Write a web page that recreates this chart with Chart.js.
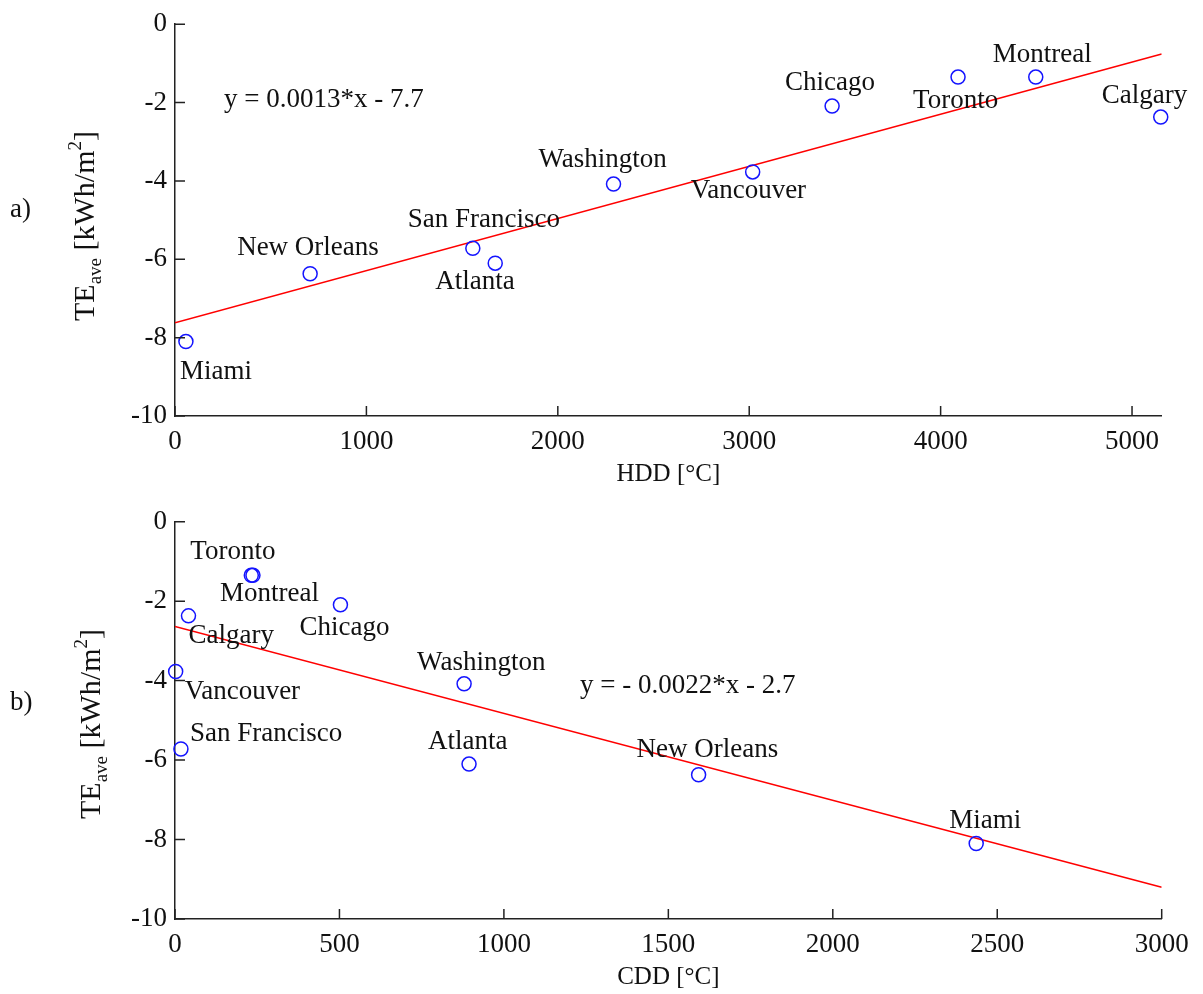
<!DOCTYPE html>
<html>
<head>
<meta charset="utf-8">
<script src="https://cdn.jsdelivr.net/npm/chart.js@4.4.0/dist/chart.umd.min.js"></script>
<style>
html, body { margin: 0; padding: 0; background: #fff; }
.box { position: absolute; left: 0; width: 1203px; height: 497px; }
</style>
</head>
<body>
<div class="box" style="top:0"><canvas id="hdd"></canvas></div>
<div class="box" style="top:497px"><canvas id="cdd"></canvas></div>
<script>
// data
var cities = ['Miami', 'New Orleans', 'San Francisco', 'Atlanta', 'Washington', 'Vancouver', 'Chicago', 'Toronto', 'Montreal', 'Calgary'];
var teAve = [-8.1, -6.37, -5.72, -6.1, -4.08, -3.77, -2.09, -1.35, -1.35, -2.37];
var hdd = [57, 706, 1556, 1673, 2291, 3018, 3433, 4091, 4497, 5150];
var cdd = [2436, 1592, 18, 894, 879, 2, 503, 232, 237, 41];
var hddFitX = [0, 5155], hddFitY = [-7.62, -0.76];
var cddFitX = [0, 3000], cddFitY = [-2.64, -9.2];
var hddTicks = [0, 1000, 2000, 3000, 4000, 5000];
var cddTicks = [0, 500, 1000, 1500, 2000, 2500, 3000];
var teTicks = [-10, -8, -6, -4, -2, 0];

// label placement, px from the marker (left, baseline)
var hddLabelOff = [[-6, 37], [-73, -19], [-65, -21], [-60, 26], [-75, -17], [-62, 26], [-47, -16], [-45, 31], [-43, -15], [-59, -14]];
var cddLabelOff = [[-27, -16], [-62, -18], [9, -8], [-41, -15], [-47, -14], [9, 28], [-41, 30], [-61, -16], [-33, 26], [0, 27]];

var SERIF = "'Liberation Serif', 'Times New Roman', serif";
Chart.defaults.font.family = SERIF;
Chart.defaults.color = '#111';

function toPts(xs, ys) {
    var out = [];
    for (var i = 0; i < xs.length; i++) out.push({x: xs[i], y: ys[i]});
    return out;
}

var extras = {
    id: 'extras',
    afterDatasetsDraw: function(chart, args, o) {
        var ctx = chart.ctx, ca = chart.chartArea;
        var meta = chart.getDatasetMeta(0);
        ctx.save();
        ctx.fillStyle = '#111';
        ctx.textAlign = 'left';
        ctx.textBaseline = 'alphabetic';
        ctx.font = '27px ' + SERIF;
        for (var i = 0; i < meta.data.length; i++) {
            var el = meta.data[i];
            ctx.fillText(cities[i], el.x + o.off[i][0], el.y + o.off[i][1]);
        }
        // fit equation
        ctx.fillText(o.eq, ca.left + o.eqPos[0], ca.top + o.eqPos[1]);
        ctx.restore();
    },
    afterDraw: function(chart, args, o) {
        var ctx = chart.ctx, ca = chart.chartArea;
        var xs = chart.scales.x, ys = chart.scales.y;
        ctx.save();
        ctx.strokeStyle = '#222';
        ctx.lineWidth = 1.5;
        ctx.beginPath();
        xs.ticks.forEach(function(t) {
            var p = xs.getPixelForValue(t.value);
            ctx.moveTo(p, ca.bottom); ctx.lineTo(p, ca.bottom - 10);
        });
        ys.ticks.forEach(function(t) {
            var p = ys.getPixelForValue(t.value);
            ctx.moveTo(ca.left, p); ctx.lineTo(ca.left + 10, p);
        });
        ctx.stroke();

        // panel letter
        ctx.fillStyle = '#111';
        ctx.font = '27px ' + SERIF;
        ctx.textAlign = 'left';
        ctx.fillText(o.panel, 10, o.panelY);

        // rotated y title with sub/superscript
        var big = '30px ' + SERIF, small = '19px ' + SERIF;
        var parts = [['TE', big, 0], ['ave', small, 7], [' [kWh/m', big, 0], ['2', small, -13], [']', big, 0]];
        var total = 0;
        parts.forEach(function(p) { ctx.font = p[1]; total += ctx.measureText(p[0]).width; });
        ctx.translate(o.titleX, o.titleY);
        ctx.rotate(-Math.PI / 2);
        var x = -total / 2;
        parts.forEach(function(p) {
            ctx.font = p[1];
            ctx.fillText(p[0], x, p[2]);
            x += ctx.measureText(p[0]).width;
        });
        ctx.restore();
    }
};

function fixedTicks(list) {
    return function(s) {
        s.ticks = list.map(function(v) { return {value: v}; });
    };
}

function makeChart(id, xs, fitX, fitY, xMax, xTickList, xTitle, opts) {
    return new Chart(document.getElementById(id), {
        type: 'scatter',
        data: {
            datasets: [
                {
                    data: toPts(xs, teAve),
                    pointStyle: 'circle',
                    pointRadius: 7,
                    pointHoverRadius: 7,
                    borderColor: 'rgb(20,20,255)',
                    backgroundColor: 'rgba(0,0,0,0)',
                    borderWidth: 1.5,
                    clip: false
                },
                {
                    data: toPts(fitX, fitY),
                    showLine: true,
                    pointRadius: 0,
                    borderColor: 'rgb(255,0,0)',
                    borderWidth: 1.5
                }
            ]
        },
        options: {
            responsive: true,
            maintainAspectRatio: false,
            animation: false,
            events: [],
            layout: { padding: { left: 0, right: 41.3, top: opts.top, bottom: 0 } },
            plugins: {
                legend: { display: false },
                tooltip: { enabled: false },
                extras: opts
            },
            scales: {
                x: {
                    type: 'linear',
                    min: 0, max: xMax,
                    grid: { display: false, drawTicks: false },
                    border: { display: true, color: '#222', width: 1.5 },
                    afterBuildTicks: fixedTicks(xTickList),
                    ticks: { padding: 10, maxRotation: 0, autoSkip: false, font: { size: 27 }, color: '#111',
                             callback: function(v) { return String(v); } },
                    title: { display: true, text: xTitle, font: { size: 25 }, color: '#111', padding: { top: 0, bottom: opts.xTitlePad } },
                    afterFit: function(s) { s.height = opts.xH; }
                },
                y: {
                    type: 'linear',
                    min: -10, max: 0,
                    grid: { display: false, drawTicks: false },
                    border: { display: true, color: '#222', width: 1.5 },
                    afterBuildTicks: fixedTicks(teTicks),
                    ticks: { padding: 8, autoSkip: false, font: { size: 27 }, color: '#111',
                             callback: function(v) { return String(v); } },
                    afterFit: function(s) { s.width = 175; }
                }
            }
        },
        plugins: [extras]
    });
}

makeChart('hdd', hdd, hddFitX, hddFitY, 5155, hddTicks, 'HDD [\u00B0C]', {
    top: 20, xH: 81, xTitlePad: 8,
    off: hddLabelOff, eq: 'y = 0.0013*x - 7.7', eqPos: [49, 83],
    panel: 'a)', panelY: 217, titleX: 94, titleY: 226
});
makeChart('cdd', cdd, cddFitX, cddFitY, 3000, cddTicks, 'CDD [\u00B0C]', {
    top: 24.7, xH: 75, xTitlePad: 2,
    off: cddLabelOff, eq: 'y = - 0.0022*x - 2.7', eqPos: [405, 171],
    panel: 'b)', panelY: 213, titleX: 100, titleY: 227
});
</script>
</body>
</html>
